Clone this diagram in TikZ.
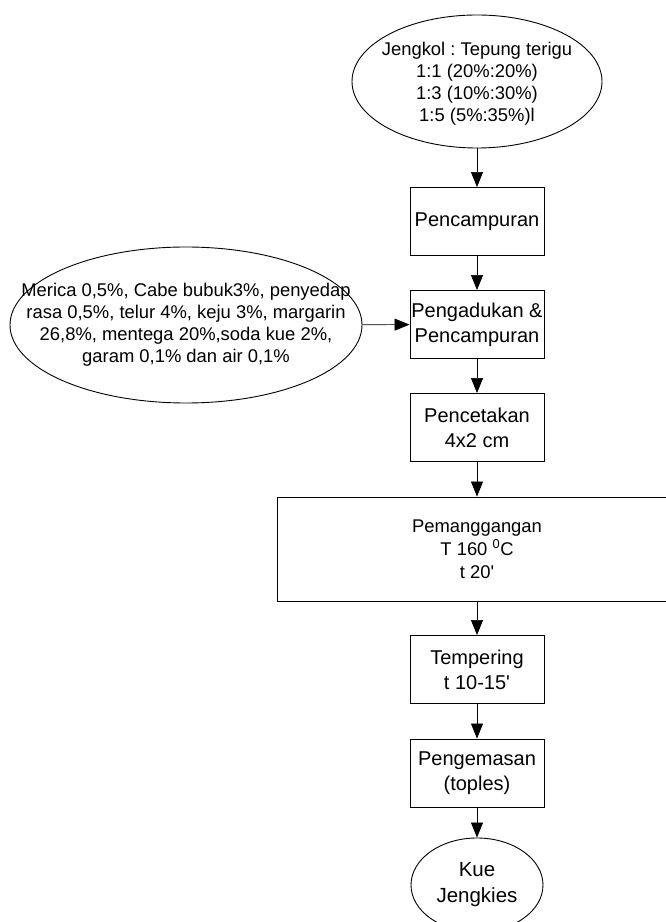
\documentclass[tikz,border=0pt]{standalone}
\usepackage{fontspec}
\setmainfont{Liberation Sans}
\usetikzlibrary{shapes.geometric,arrows.meta}
\frenchspacing

\tikzset{
  box/.style={draw, rectangle, inner sep=0pt, minimum width=134pt, minimum height=68pt, align=center,
    font=\fontsize{20}{25}\selectfont},
  ell/.style={draw, ellipse, inner sep=0pt},
  arr/.style={line width=0.7pt, -{Triangle[length=15pt,width=12pt]}},
}

\begin{document}
\begin{tikzpicture}[x=1pt, y=1pt, line width=0.9pt, font=\fontsize{18.4}{22}\selectfont]
    % Frame
    \clip (0,0) rectangle (666,922);

    % Ingredient ellipses
    \node[ell, minimum width=250pt, minimum height=133pt] (jengkol) at (477,840.5) {};
    \node[align=center] (jengkoltxt) at (477,838) {Jengkol : Tepung terigu\\1:1 (20\%:20\%)\\1:3 (10\%:30\%)\\1:5 (5\%:35\%)l};
    \node[ell, minimum width=352pt, minimum height=156pt] (bahan) at (186,597) {};
    \node[align=center] (bahantxt) at (186,597.5) {Merica 0,5\%, Cabe bubuk3\%, penyedap\\rasa 0,5\%, telur 4\%, keju 3\%, margarin\\26,8\%, mentega 20\%,soda kue 2\%,\\garam 0,1\% dan air 0,1\%};

    % Process steps
    \node[box] (campur) at (477,700.5) {Pencampuran};
    \node[box] (aduk) at (477,597.5) {Pengadukan \&\\Pencampuran};
    \node[box] (cetak) at (477,494.5) {Pencetakan\\4x2 cm};
    \node[box, minimum width=400pt, minimum height=104pt, font=\fontsize{18.4}{23}\selectfont] (panggang) at (477,373)
        {Pemanggangan\\T 160 \textsuperscript{0}C\\t 20\textquotesingle};
    \node[box] (tempering) at (477,252.5) {Tempering\\t 10-15\textquotesingle};
    \node[box] (kemas) at (477,149) {Pengemasan\\(toples)};

    % Product
    \node[ell, minimum width=132pt, minimum height=94pt, align=center, font=\fontsize{20.5}{26}\selectfont] (kue) at (477,37) {Kue\\Jengkies};

    % Arrows
    \draw[arr] (jengkol) -- (campur);
    \draw[arr] (campur) -- (aduk);
    \draw[arr] (bahan) -- (aduk);
    \draw[arr] (aduk) -- (cetak);
    \draw[arr] (cetak) -- (panggang);
    \draw[arr] (panggang) -- (tempering);
    \draw[arr] (tempering) -- (kemas);
    \draw[arr] (kemas) -- (kue);
\end{tikzpicture}
\end{document}
